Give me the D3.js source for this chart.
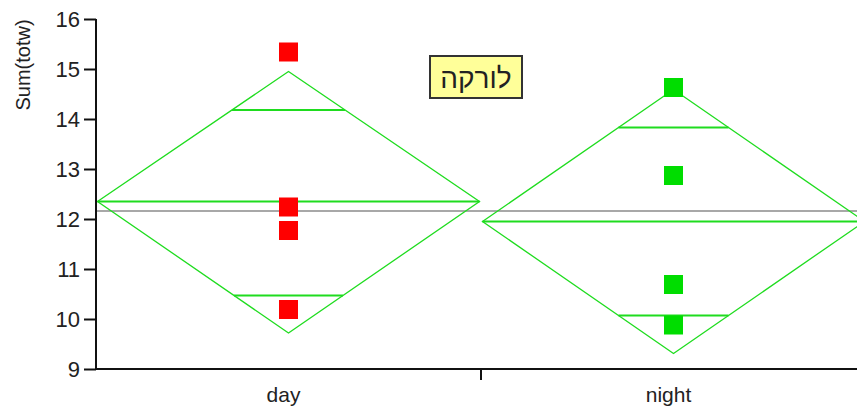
<!DOCTYPE html>
<html>
<head>
<meta charset="utf-8">
<script src="https://cdn.jsdelivr.net/npm/d3@7"></script>
<style>
  body { margin: 0; background: #fff; }
  svg { display: block; font-family: "Liberation Sans", Arial, sans-serif; }
</style>
</head>
<body>
<svg class="chart"></svg>
<script>
const groups = ['day', 'night']
const dayValues = [15.34, 12.24, 11.77, 10.19]
const nightValues = [14.63, 12.87, 10.69, 9.88]
// means diamonds (mean, 95% ci, overlap marks)
const means = [12.35, 11.95]
const ciLow = [9.72, 9.31]
const ciHigh = [14.95, 14.59]
const overlapLow = [10.47, 10.07]
const overlapHigh = [14.18, 13.83]
const grandMean = 12.16
const yTicks = [9, 10, 11, 12, 13, 14, 15, 16]
const yLabel = 'Sum(totw)'
const legendLabel = 'לורקה'

const width = 857, height = 410

const x = d3.scaleBand()
  .domain(groups)
  .range([96, 866])

const y = d3.scaleLinear()
  .domain([9, 16])
  .range([369, 19])

const svg = d3.select('.chart')
  .attr('width', width)
  .attr('height', height)

const green = '#1fdc1f'
const markColors = ['#ff0000', '#00dd00']
const points = [dayValues, nightValues]

// grand mean
svg.append('line')
  .attr('x1', 96).attr('x2', width)
  .attr('y1', y(grandMean)).attr('y2', y(grandMean))
  .attr('stroke', '#a8a8a8')
  .attr('stroke-width', 2)

groups.forEach((g, i) => {
  const cx = x(g) + x.bandwidth() / 2
  const hw = x.bandwidth() / 2 - 1.5
  const m = means[i]
  const gg = svg.append('g')

  gg.append('path')
    .attr('d', `M${cx - hw},${y(m)} L${cx},${y(ciHigh[i])} L${cx + hw},${y(m)} L${cx},${y(ciLow[i])} Z`)
    .attr('fill', 'none')
    .attr('stroke', green)
    .attr('stroke-width', 1.3)

  gg.append('line')
    .attr('x1', cx - hw).attr('x2', cx + hw)
    .attr('y1', y(m)).attr('y2', y(m))
    .attr('stroke', green)
    .attr('stroke-width', 2)

  ;[overlapLow[i], overlapHigh[i]].forEach(v => {
    const w = hw * (1 - Math.abs(v - m) / (v > m ? ciHigh[i] - m : m - ciLow[i]))
    gg.append('line')
      .attr('x1', cx - w).attr('x2', cx + w)
      .attr('y1', y(v)).attr('y2', y(v))
      .attr('stroke', green)
      .attr('stroke-width', 2)
  })

  gg.selectAll('rect')
    .data(points[i])
    .enter()
    .append('rect')
    .attr('x', cx - 9.5)
    .attr('y', d => y(d) - 9.5)
    .attr('width', 19)
    .attr('height', 19)
    .attr('fill', markColors[i])
})

// y axis
const yAxis = d3.axisLeft(y)
  .tickValues(yTicks)
  .tickFormat(d3.format('d'))
  .tickSize(12)
  .tickPadding(4)

svg.append('g')
  .attr('transform', 'translate(96, 0)')
  .call(yAxis)
  .call(g => g.select('.domain').attr('d', `M0,${y(16)}V${y(9)}`).attr('stroke', '#111').attr('stroke-width', 2))
  .call(g => g.selectAll('.tick line').attr('stroke', '#111').attr('stroke-width', 2))
  .call(g => g.selectAll('.tick text').attr('font-size', 22).attr('fill', '#222').attr('font-family', '"Liberation Sans", Arial, sans-serif'))

// x axis
const xAxis = d3.axisBottom(x).tickSize(0).tickPadding(18)

svg.append('g')
  .attr('transform', `translate(0, ${y(9)})`)
  .call(xAxis)
  .call(g => g.select('.domain').attr('d', `M96,0H${width}`).attr('stroke', '#111').attr('stroke-width', 2))
  .call(g => g.selectAll('.tick text').attr('font-size', 21).attr('fill', '#222').attr('dx', -5).attr('font-family', '"Liberation Sans", Arial, sans-serif'))
  .append('line')
  .attr('x1', x('night')).attr('x2', x('night'))
  .attr('y1', 0).attr('y2', 11)
  .attr('stroke', '#111')
  .attr('stroke-width', 2)

svg.append('text')
  .attr('transform', 'translate(30, 65) rotate(-90)')
  .attr('text-anchor', 'middle')
  .attr('font-size', 20)
  .attr('fill', '#222')
  .text(yLabel)

// legend box
const legend = svg.append('g').attr('transform', 'translate(429, 55)')
legend.append('rect')
  .attr('x', 1).attr('y', 1)
  .attr('width', 92).attr('height', 42)
  .attr('fill', '#ffff99')
  .attr('stroke', '#333')
  .attr('stroke-width', 2)
legend.append('text')
  .attr('x', 47).attr('y', 33)
  .attr('text-anchor', 'middle')
  .attr('font-size', 28)
  .attr('fill', '#222')
  .text(legendLabel)
</script>
</body>
</html>
